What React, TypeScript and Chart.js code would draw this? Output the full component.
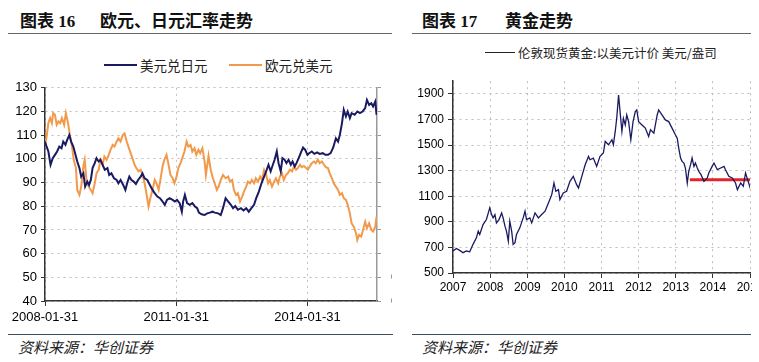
import React, { useEffect, useRef } from 'react';
import { Chart, registerables } from 'chart.js';

Chart.register(...registerables);

// ---------- Left chart: 欧元、日元汇率走势 ----------
const fxTickYears = [2008.083, 2011.083, 2014.083];
const fxTickLabels = ['2008-01-31', '2011-01-31', '2014-01-31'];

const usdJpyYears = [
  2008.08, 2008.12, 2008.16, 2008.21, 2008.26, 2008.31, 2008.36, 2008.41, 2008.46, 2008.50,
  2008.55, 2008.59, 2008.64, 2008.68, 2008.73, 2008.78, 2008.82, 2008.87, 2008.91, 2008.96,
  2009.00, 2009.05, 2009.09, 2009.13, 2009.17, 2009.22, 2009.26, 2009.31, 2009.35, 2009.40,
  2009.45, 2009.51, 2009.55, 2009.60, 2009.66, 2009.72, 2009.76, 2009.81, 2009.87, 2009.92,
  2009.96, 2010.01, 2010.06, 2010.11, 2010.16, 2010.21, 2010.27, 2010.31, 2010.36, 2010.42,
  2010.48, 2010.54, 2010.59, 2010.65, 2010.71, 2010.77, 2010.82, 2010.87, 2010.93, 2011.00,
  2011.05, 2011.10, 2011.16, 2011.21, 2011.24, 2011.28, 2011.33, 2011.39, 2011.45, 2011.51,
  2011.56, 2011.60, 2011.66, 2011.73, 2011.79, 2011.85, 2011.91,
  2011.96, 2012.04, 2012.10, 2012.15, 2012.21, 2012.27, 2012.33, 2012.38, 2012.43, 2012.49,
  2012.56, 2012.62, 2012.68, 2012.74, 2012.80, 2012.86, 2012.91, 2012.97, 2013.03, 2013.09,
  2013.15, 2013.19, 2013.24, 2013.29, 2013.33, 2013.38, 2013.42, 2013.47, 2013.51, 2013.56,
  2013.60, 2013.65, 2013.70, 2013.74, 2013.79, 2013.83, 2013.88, 2013.94, 2013.98, 2014.03,
  2014.08, 2014.12, 2014.18, 2014.24, 2014.30, 2014.36, 2014.43, 2014.49, 2014.55, 2014.61,
  2014.67, 2014.73, 2014.78, 2014.82, 2014.87, 2014.91, 2014.96, 2015.00, 2015.05, 2015.09,
  2015.16, 2015.22, 2015.28, 2015.34, 2015.40, 2015.44, 2015.49, 2015.54, 2015.58, 2015.63,
  2015.66,
];
const usdJpyValues = [
  107.3, 105.2, 103.1, 97.5, 100.3, 101.7, 103.1, 105.2, 104.5, 107.3,
  105.9, 108.0, 110.1, 107.3, 105.2, 101.7, 98.9, 96.1, 92.5, 93.9,
  88.3, 90.4, 89.0, 91.1, 96.1, 98.2, 100.3, 98.9, 99.6, 97.5,
  95.4, 96.1, 93.2, 93.9, 91.8, 91.1, 89.7, 91.1, 89.0, 86.9,
  89.7, 92.5, 91.1, 90.4, 89.4, 91.1, 92.5, 93.9, 91.8, 91.1,
  89.0, 86.9, 85.5, 84.1, 83.4, 82.0, 80.6, 82.7, 83.4, 82.7,
  82.0, 82.7, 81.3, 77.7, 82.0, 84.8, 81.3, 80.6, 81.3, 79.9,
  79.2, 77.3, 76.6, 76.3, 77.0, 77.3, 77.7,
  77.3, 77.0, 76.3, 79.2, 83.4, 82.0, 80.6, 79.2, 80.1, 78.5,
  79.2, 78.2, 79.2, 77.7, 79.2, 80.6, 83.4, 86.2, 89.7, 92.5,
  95.4, 97.5, 94.7, 97.5, 99.6, 103.1, 98.2, 94.7, 100.3, 99.6,
  98.2, 99.6, 97.5, 98.9, 96.8, 98.2, 100.3, 103.1, 104.8, 103.8,
  101.7, 102.4, 103.1, 102.1, 102.7, 102.1, 102.4, 101.7, 101.7, 102.4,
  104.8, 108.7, 107.3, 110.1, 115.1, 120.7, 117.9, 120.0, 117.2, 119.3,
  118.6, 120.0, 119.3, 120.0, 121.4, 124.9, 122.8, 123.5, 122.1, 124.2,
  118.6,
];

const eurUsdYears = [
  2008.08, 2008.12, 2008.16, 2008.20, 2008.24, 2008.27, 2008.31, 2008.35, 2008.39, 2008.43,
  2008.47, 2008.52, 2008.56, 2008.61, 2008.65, 2008.70, 2008.74, 2008.79, 2008.82, 2008.87,
  2008.91, 2008.96, 2008.99, 2009.03, 2009.08, 2009.13, 2009.17, 2009.22, 2009.26, 2009.31,
  2009.35, 2009.40, 2009.44, 2009.49, 2009.54, 2009.58, 2009.63, 2009.67, 2009.72, 2009.76,
  2009.81, 2009.86, 2009.90, 2009.95, 2009.99, 2010.04, 2010.08, 2010.13, 2010.17, 2010.22,
  2010.27, 2010.31, 2010.36, 2010.40, 2010.45, 2010.49, 2010.54, 2010.59, 2010.63, 2010.68,
  2010.72, 2010.77, 2010.81, 2010.86, 2010.90, 2010.95, 2011.00, 2011.04, 2011.09, 2011.13,
  2011.18, 2011.22, 2011.27, 2011.32, 2011.36, 2011.41, 2011.45, 2011.50, 2011.54, 2011.59,
  2011.63, 2011.68, 2011.73,
  2011.76, 2011.82, 2011.87, 2011.92, 2011.96, 2012.01, 2012.05, 2012.10, 2012.15, 2012.21,
  2012.27, 2012.31, 2012.36, 2012.40, 2012.45, 2012.49, 2012.54, 2012.59, 2012.63, 2012.68,
  2012.72, 2012.77, 2012.81, 2012.86, 2012.90, 2012.95, 2013.00, 2013.04, 2013.09, 2013.13,
  2013.18, 2013.22, 2013.27, 2013.32, 2013.36, 2013.41, 2013.45, 2013.50, 2013.54, 2013.59,
  2013.63, 2013.68, 2013.73, 2013.77, 2013.82, 2013.86, 2013.91, 2013.95, 2014.00, 2014.05,
  2014.09, 2014.14, 2014.18, 2014.23, 2014.27, 2014.32, 2014.36, 2014.41, 2014.46, 2014.50,
  2014.55, 2014.59, 2014.64, 2014.68, 2014.73, 2014.78, 2014.82, 2014.87, 2014.91, 2014.96,
  2015.00, 2015.05, 2015.09, 2015.14, 2015.19, 2015.22, 2015.26, 2015.31, 2015.35, 2015.40,
  2015.44, 2015.49, 2015.54, 2015.58, 2015.63, 2015.66,
];
const eurUsdValues = [
  1.452, 1.494, 1.551, 1.572, 1.551, 1.593, 1.586, 1.544, 1.558, 1.551,
  1.572, 1.544, 1.593, 1.551, 1.501, 1.452, 1.396, 1.361, 1.269, 1.248,
  1.283, 1.369, 1.396, 1.311, 1.283, 1.269, 1.255, 1.297, 1.339, 1.354,
  1.396, 1.375, 1.410, 1.396, 1.417, 1.438, 1.459, 1.452, 1.473, 1.487,
  1.473, 1.501, 1.508, 1.473, 1.452, 1.424, 1.403, 1.375, 1.361, 1.347,
  1.354, 1.332, 1.297, 1.255, 1.199, 1.234, 1.269, 1.311, 1.297, 1.269,
  1.311, 1.369, 1.396, 1.417, 1.382, 1.332, 1.318, 1.297, 1.325, 1.361,
  1.382, 1.403, 1.431, 1.473, 1.452, 1.459, 1.431, 1.445, 1.417, 1.438,
  1.424, 1.445, 1.389,
  1.332, 1.413, 1.354, 1.318, 1.297, 1.269, 1.283, 1.311, 1.332, 1.318,
  1.325, 1.304, 1.311, 1.269, 1.248, 1.255, 1.220, 1.241, 1.262, 1.283,
  1.304, 1.297, 1.311, 1.297, 1.318, 1.304, 1.325, 1.311, 1.354, 1.339,
  1.297, 1.311, 1.283, 1.304, 1.318, 1.297, 1.325, 1.339, 1.311, 1.332,
  1.339, 1.354, 1.347, 1.368, 1.354, 1.361, 1.375, 1.365, 1.370, 1.361,
  1.354, 1.370, 1.382, 1.389, 1.382, 1.396, 1.382, 1.389, 1.375, 1.365,
  1.361, 1.339, 1.318, 1.297, 1.283, 1.269, 1.248, 1.255, 1.234, 1.227,
  1.206, 1.170, 1.128, 1.114, 1.086, 1.058, 1.079, 1.072, 1.100, 1.135,
  1.107, 1.128, 1.100, 1.093, 1.114, 1.156,
];

// ---------- Right chart: 黄金走势 ----------
const goldTickValues = [500, 700, 900, 1100, 1300, 1500, 1700, 1900];
const goldTickYears = [2007, 2008, 2009, 2010, 2011, 2012, 2013, 2014, 2015];

const goldYears = [
  2007.00, 2007.09, 2007.18, 2007.27, 2007.36, 2007.45, 2007.54, 2007.63, 2007.68, 2007.72,
  2007.81, 2007.90, 2007.99, 2008.04, 2008.08, 2008.13, 2008.17, 2008.24, 2008.31, 2008.35,
  2008.40, 2008.44, 2008.49, 2008.53, 2008.58, 2008.62, 2008.67, 2008.71, 2008.80, 2008.89,
  2008.94, 2008.98, 2009.07, 2009.12, 2009.21, 2009.30, 2009.39, 2009.48, 2009.57, 2009.66,
  2009.72, 2009.77, 2009.84, 2009.88, 2009.97, 2010.06, 2010.15, 2010.24, 2010.33, 2010.38,
  2010.47, 2010.56, 2010.65, 2010.69, 2010.78, 2010.87, 2010.96, 2011.05, 2011.10, 2011.19,
  2011.28, 2011.32, 2011.37, 2011.41, 2011.46, 2011.50, 2011.55, 2011.59, 2011.64, 2011.68,
  2011.73, 2011.79, 2011.85, 2011.91, 2011.95, 2012.00, 2012.09, 2012.18, 2012.27, 2012.32,
  2012.41, 2012.50, 2012.54, 2012.63, 2012.72, 2012.81, 2012.90, 2012.99, 2013.04, 2013.08,
  2013.13, 2013.17, 2013.22, 2013.26, 2013.31, 2013.35, 2013.40, 2013.44, 2013.49, 2013.53,
  2013.58, 2013.62, 2013.68, 2013.76, 2013.85, 2013.89, 2013.98, 2014.03, 2014.12, 2014.21,
  2014.30, 2014.34, 2014.43, 2014.52, 2014.61, 2014.66, 2014.75, 2014.82, 2014.88, 2014.95,
  2015.02,
];
const goldValues = [
  672, 692, 677, 659, 672, 666, 724, 775, 827, 801,
  879, 918, 1009, 957, 931, 957, 892, 918, 970, 931,
  866, 827, 749, 905, 827, 724, 737, 801, 853, 931,
  983, 918, 931, 892, 970, 931, 957, 983, 1048, 1113,
  1204, 1139, 1152, 1074, 1126, 1139, 1217, 1256, 1191, 1165,
  1256, 1347, 1412, 1386, 1399, 1334, 1412, 1438, 1529, 1503,
  1542, 1503, 1607, 1710, 1892, 1762, 1607, 1710, 1658, 1736,
  1684, 1542, 1684, 1762, 1775, 1684, 1658, 1633, 1568, 1620,
  1594, 1736, 1775, 1736, 1697, 1684, 1633, 1581, 1555, 1477,
  1399, 1373, 1360, 1321, 1204, 1295, 1347, 1399, 1334, 1360,
  1321, 1295, 1269, 1217, 1243, 1282, 1334, 1360, 1308, 1321,
  1334, 1308, 1256, 1243, 1204, 1152, 1204, 1178, 1282, 1217,
  1152,
];
const supportYears = [2013.38, 2015.04];
const supportValues = [1230, 1230];

const NAVY = '#1a1a62';
const ORANGE = '#f29a4c';
const GRID = '#bdbdbd';
const AXIS = '#333333';
const LATIN = '"Liberation Sans", Arial, sans-serif';
const CJK = '"Noto Sans CJK SC", "Noto Sans", sans-serif';

const pairs = (xs: number[], ys: number[]) => xs.map((x, i) => ({ x, y: ys[i] }));

export default function App() {
  const leftRef = useRef<HTMLCanvasElement>(null);
  const rightRef = useRef<HTMLCanvasElement>(null);

  useEffect(() => {
    const left = new Chart(leftRef.current as HTMLCanvasElement, {
      type: 'line',
      data: {
        datasets: [
          {
            label: '美元兑日元',
            data: pairs(usdJpyYears, usdJpyValues),
            borderColor: NAVY,
            borderWidth: 2,
            pointRadius: 0,
            tension: 0,
            yAxisID: 'y',
          },
          {
            label: '欧元兑美元',
            data: pairs(eurUsdYears, eurUsdValues),
            borderColor: ORANGE,
            borderWidth: 2,
            pointRadius: 0,
            tension: 0,
            yAxisID: 'y1',
          },
        ],
      },
      options: {
        animation: false,
        responsive: false,
        maintainAspectRatio: false,
        layout: { padding: { top: 17, left: 0, right: 0, bottom: 0 } },
        plugins: { legend: { display: false }, tooltip: { enabled: false } },
        scales: {
          x: {
            type: 'linear',
            min: 2008.083,
            max: 2015.67,
            afterBuildTicks: (s: any) => {
              s.ticks = fxTickYears.map((v) => ({ value: v }));
            },
            afterFit: (s: any) => {
              s.height = 25;
            },
            ticks: {
              callback: (_v: any, i: number) => fxTickLabels[i],
              font: { family: LATIN, size: 13 },
              color: '#000',
              maxRotation: 0,
              autoSkip: false,
              padding: 4,
            },
            grid: { color: GRID, tickColor: AXIS, tickLength: 5, lineWidth: 1 },
            border: { color: AXIS, width: 1.5, dash: [2, 4] },
          },
          y: {
            position: 'left',
            min: 40,
            max: 130,
            afterFit: (s: any) => {
              s.width = 45;
            },
            ticks: { stepSize: 10, font: { family: LATIN, size: 13 }, color: '#000', padding: 4 },
            grid: { color: GRID, tickColor: AXIS, tickLength: 4 },
            border: { color: AXIS, width: 1.5, dash: [2, 4] },
          },
          y1: {
            position: 'right',
            min: 0.8,
            max: 1.7,
            afterFit: (s: any) => {
              s.width = 15;
            },
            ticks: {
              stepSize: 0.1,
              callback: (v: any) => Number(v).toFixed(1),
              font: { family: LATIN, size: 13 },
              color: '#000',
              padding: 10,
            },
            grid: { drawOnChartArea: false, tickColor: '#999', tickLength: 4 },
            border: { color: '#999', width: 1.5 },
          },
        },
      },
    } as any);

    const right = new Chart(rightRef.current as HTMLCanvasElement, {
      type: 'line',
      data: {
        datasets: [
          {
            label: '伦敦现货黄金:以美元计价 美元/盎司',
            data: pairs(goldYears, goldValues),
            borderColor: NAVY,
            borderWidth: 1.3,
            pointRadius: 0,
            tension: 0,
          },
          {
            label: 'support',
            data: pairs(supportYears, supportValues),
            borderColor: '#e0262a',
            borderWidth: 3,
            pointRadius: 0,
          },
        ],
      },
      options: {
        animation: false,
        responsive: false,
        maintainAspectRatio: false,
        layout: { padding: { top: 11, left: 0, right: 30, bottom: 0 } },
        plugins: { legend: { display: false }, tooltip: { enabled: false } },
        scales: {
          x: {
            type: 'linear',
            min: 2007,
            max: 2015,
            afterBuildTicks: (s: any) => {
              s.ticks = goldTickYears.map((v) => ({ value: v }));
            },
            afterFit: (s: any) => {
              s.height = 20;
            },
            ticks: {
              callback: (v: any) => String(v),
              font: { family: LATIN, size: 12 },
              color: '#000',
              maxRotation: 0,
              autoSkip: false,
              padding: 2,
            },
            grid: { color: GRID, tickColor: AXIS, tickLength: 5 },
            border: { color: AXIS, width: 1.5, dash: [2, 4] },
          },
          y: {
            min: 500,
            max: 2000,
            afterBuildTicks: (s: any) => {
              s.ticks = goldTickValues.map((v) => ({ value: v }));
            },
            afterFit: (s: any) => {
              s.width = 53;
            },
            ticks: {
              callback: (v: any) => String(v),
              font: { family: LATIN, size: 12 },
              color: '#000',
              padding: 4,
            },
            grid: { color: GRID, tickColor: AXIS, tickLength: 5 },
            border: { color: AXIS, width: 1.5, dash: [2, 4] },
          },
        },
      },
    } as any);

    return () => {
      left.destroy();
      right.destroy();
    };
  }, []);

  const abs = (s: React.CSSProperties): React.CSSProperties => ({ position: 'absolute', ...s });
  const titleFont: React.CSSProperties = {
    fontFamily: `"Liberation Serif", ${CJK}`,
    fontWeight: 700,
    fontSize: 17,
    lineHeight: '24px',
    color: '#111',
    whiteSpace: 'nowrap',
  };
  const footFont: React.CSSProperties = {
    fontFamily: CJK,
    fontStyle: 'italic',
    fontSize: 15,
    lineHeight: '20px',
    color: '#222',
    whiteSpace: 'nowrap',
  };
  const legendFont: React.CSSProperties = {
    fontFamily: CJK,
    fontSize: 13.5,
    lineHeight: '18px',
    color: '#222',
    whiteSpace: 'nowrap',
  };

  return (
    <div style={abs({ left: 0, top: 0, width: 759, height: 362, background: '#fff', overflow: 'hidden' })}>
      {/* titles */}
      <div style={abs({ left: 20, top: 10, ...titleFont })}>图表 16</div>
      <div style={abs({ left: 100, top: 10, ...titleFont })}>欧元、日元汇率走势</div>
      <div style={abs({ left: 422, top: 10, ...titleFont })}>图表 17</div>
      <div style={abs({ left: 505, top: 10, ...titleFont })}>黄金走势</div>
      <div style={abs({ left: 8, top: 33, width: 384, height: 1, background: '#666' })} />
      <div style={abs({ left: 412, top: 33, width: 339, height: 1, background: '#666' })} />

      {/* legends */}
      <div style={abs({ left: 104, top: 64, width: 33, height: 2, background: NAVY })} />
      <div style={abs({ left: 140, top: 56, ...legendFont })}>美元兑日元</div>
      <div style={abs({ left: 229, top: 64, width: 33, height: 2, background: ORANGE })} />
      <div style={abs({ left: 265, top: 56, ...legendFont })}>欧元兑美元</div>
      <div style={abs({ left: 485, top: 52, width: 30, height: 1, background: '#222' })} />
      <div style={abs({ left: 518, top: 44, ...legendFont, fontSize: 12.5 })}>伦敦现货黄金:以美元计价 美元/盎司</div>

      {/* charts */}
      <div style={abs({ left: 0, top: 70, width: 392, height: 256, overflow: 'hidden' })}>
        <canvas ref={leftRef} width={392} height={256} style={{ display: 'block', width: 392, height: 256 }} />
      </div>
      <div style={abs({ left: 400, top: 70, width: 352, height: 223, overflow: 'hidden' })}>
        <canvas ref={rightRef} width={380} height={223} style={{ display: 'block', width: 380, height: 223 }} />
      </div>

      {/* footers */}
      <div style={abs({ left: 8, top: 334, width: 385, height: 1, background: '#3d4d5d' })} />
      <div style={abs({ left: 412, top: 334, width: 339, height: 1, background: '#3d4d5d' })} />
      <div style={abs({ left: 18, top: 337, ...footFont })}>资料来源：华创证券</div>
      <div style={abs({ left: 422, top: 337, ...footFont })}>资料来源：华创证券</div>
    </div>
  );
}
